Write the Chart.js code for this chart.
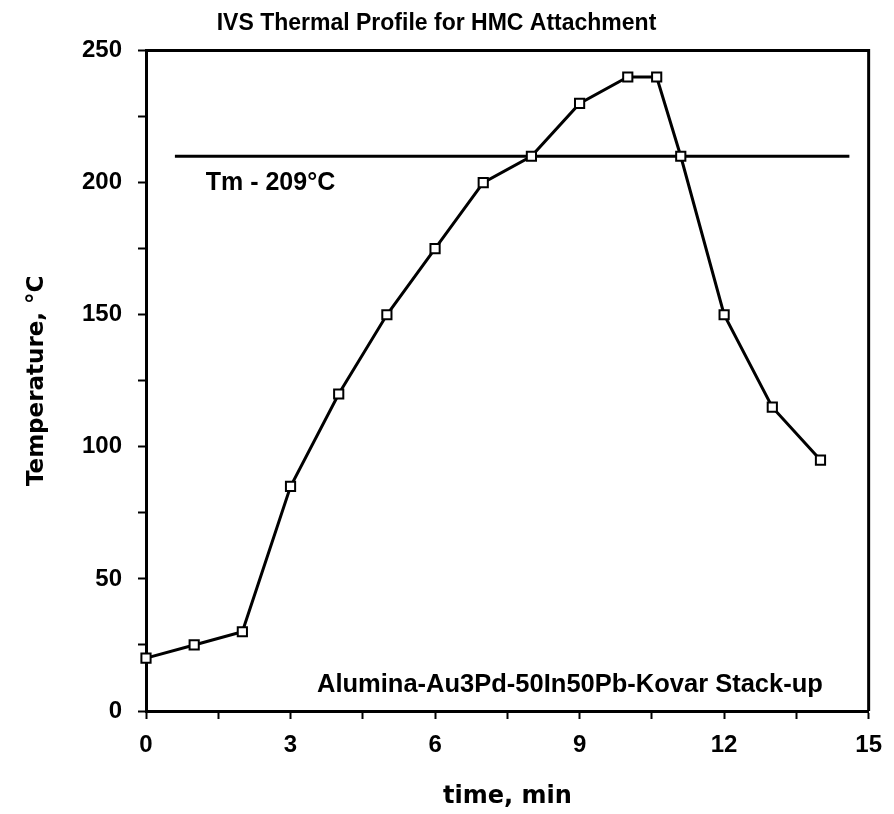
<!DOCTYPE html>
<html>
<head>
<meta charset="utf-8">
<script src="https://cdn.jsdelivr.net/npm/chart.js@4"></script>
<style>
  html, body { margin: 0; padding: 0; background: #fff; }
  #wrap { width: 894px; height: 814px; }
</style>
</head>
<body>
<div id="wrap"><canvas id="myChart"></canvas></div>
<script>
// values
const timeMin = [0, 1, 2, 3, 4, 5, 6, 7, 8, 9, 10, 10.6, 11.1, 12, 13, 14];
const tempC = [20, 25, 30, 85, 120, 150, 175, 200, 210, 230, 240, 240, 210, 150, 115, 95];
const meltX = [0.6, 14.6];
const meltTemp = 210;
const xTickLabels = [0, 3, 6, 9, 12, 15];
const yTickLabels = [0, 50, 100, 150, 200, 250];

const meltNote = { text: "Tm - 209°C", x: 1.24, y: 200 };
const stackNote = { text: "Alumina-Au3Pd-50In50Pb-Kovar Stack-up", x: 3.55, y: 10 };

const profile = timeMin.map((t, i) => ({ x: t, y: tempC[i] }));
const meltLine = meltX.map((t) => ({ x: t, y: meltTemp }));

const boldFont = "'Liberation Sans', Arial, sans-serif";
const titleFont = "'DejaVu Sans', sans-serif";

const notes = {
	id: "notes",
	afterDraw(chart) {
		const { ctx, chartArea, scales } = chart;
		ctx.save();
		// box top and right
		ctx.strokeStyle = "#000";
		ctx.lineWidth = 3;
		ctx.beginPath();
		ctx.moveTo(chartArea.left, chartArea.top);
		ctx.lineTo(chartArea.right, chartArea.top);
		ctx.lineTo(chartArea.right, chartArea.bottom);
		ctx.stroke();

		ctx.fillStyle = "#000";
		ctx.textAlign = "left";
		ctx.textBaseline = "middle";
		ctx.font = "bold 25px " + boldFont;
		ctx.fillText(meltNote.text, scales.x.getPixelForValue(meltNote.x), scales.y.getPixelForValue(meltNote.y));
		ctx.font = "bold 25.5px " + boldFont;
		ctx.fillText(stackNote.text, scales.x.getPixelForValue(stackNote.x), scales.y.getPixelForValue(stackNote.y));
		ctx.restore();
	},
};

Chart.register(notes);

new Chart(document.getElementById("myChart"), {
	type: "line",
	data: {
		datasets: [
			{
				data: profile,
				borderColor: "#000",
				borderWidth: 3,
				pointStyle: "rect",
				pointRadius: 6.5,
				pointBorderWidth: 2,
				pointBorderColor: "#000",
				pointBackgroundColor: "#fff",
				clip: false,
				order: 0,
			},
			{
				data: meltLine,
				borderColor: "#000",
				borderWidth: 3,
				pointRadius: 0,
				clip: false,
				order: 1,
			},
		],
	},
	options: {
		responsive: true,
		maintainAspectRatio: false,
		animation: false,
		layout: { padding: { top: 0, right: 21, bottom: 0, left: 0 } },
		plugins: {
			legend: { display: false },
			tooltip: { enabled: false },
			title: {
				display: true,
				text: "IVS Thermal Profile for HMC Attachment",
				color: "#000",
				font: { family: boldFont, size: 23, weight: "bold" },
				padding: { top: 10, bottom: 13 },
			},
		},
		scales: {
			x: {
				type: "linear",
				min: 0,
				max: 15,
				afterFit(scale) {
					scale.height = 103;
				},
				border: { display: true, color: "#000", width: 3 },
				grid: { drawOnChartArea: false, tickLength: 8, tickColor: "#000", tickWidth: 2 },
				ticks: {
					stepSize: 1.5,
					autoSkip: false,
					maxRotation: 0,
					padding: 12,
					color: "#000",
					font: { family: boldFont, size: 24, weight: "bold" },
					callback: (v) => (xTickLabels.includes(v) ? v : ""),
				},
				title: {
					display: true,
					text: "time, min",
					color: "#000",
					font: { family: titleFont, size: 24, weight: "bold" },
					padding: { top: 0, bottom: 3 },
				},
			},
			y: {
				min: 0,
				max: 250,
				afterFit(scale) {
					scale.width = 146;
				},
				border: { display: true, color: "#000", width: 3 },
				grid: { drawOnChartArea: false, tickLength: 8, tickColor: "#000", tickWidth: 2 },
				ticks: {
					stepSize: 25,
					autoSkip: false,
					padding: 16,
					color: "#000",
					font: { family: boldFont, size: 24, weight: "bold" },
					callback: (v) => (yTickLabels.includes(v) ? v : ""),
				},
				title: {
					display: true,
					text: "Temperature, °C",
					color: "#000",
					font: { family: titleFont, size: 23, weight: "bold" },
					padding: { top: 23, bottom: 0 },
				},
			},
		},
	},
});
</script>
</body>
</html>
